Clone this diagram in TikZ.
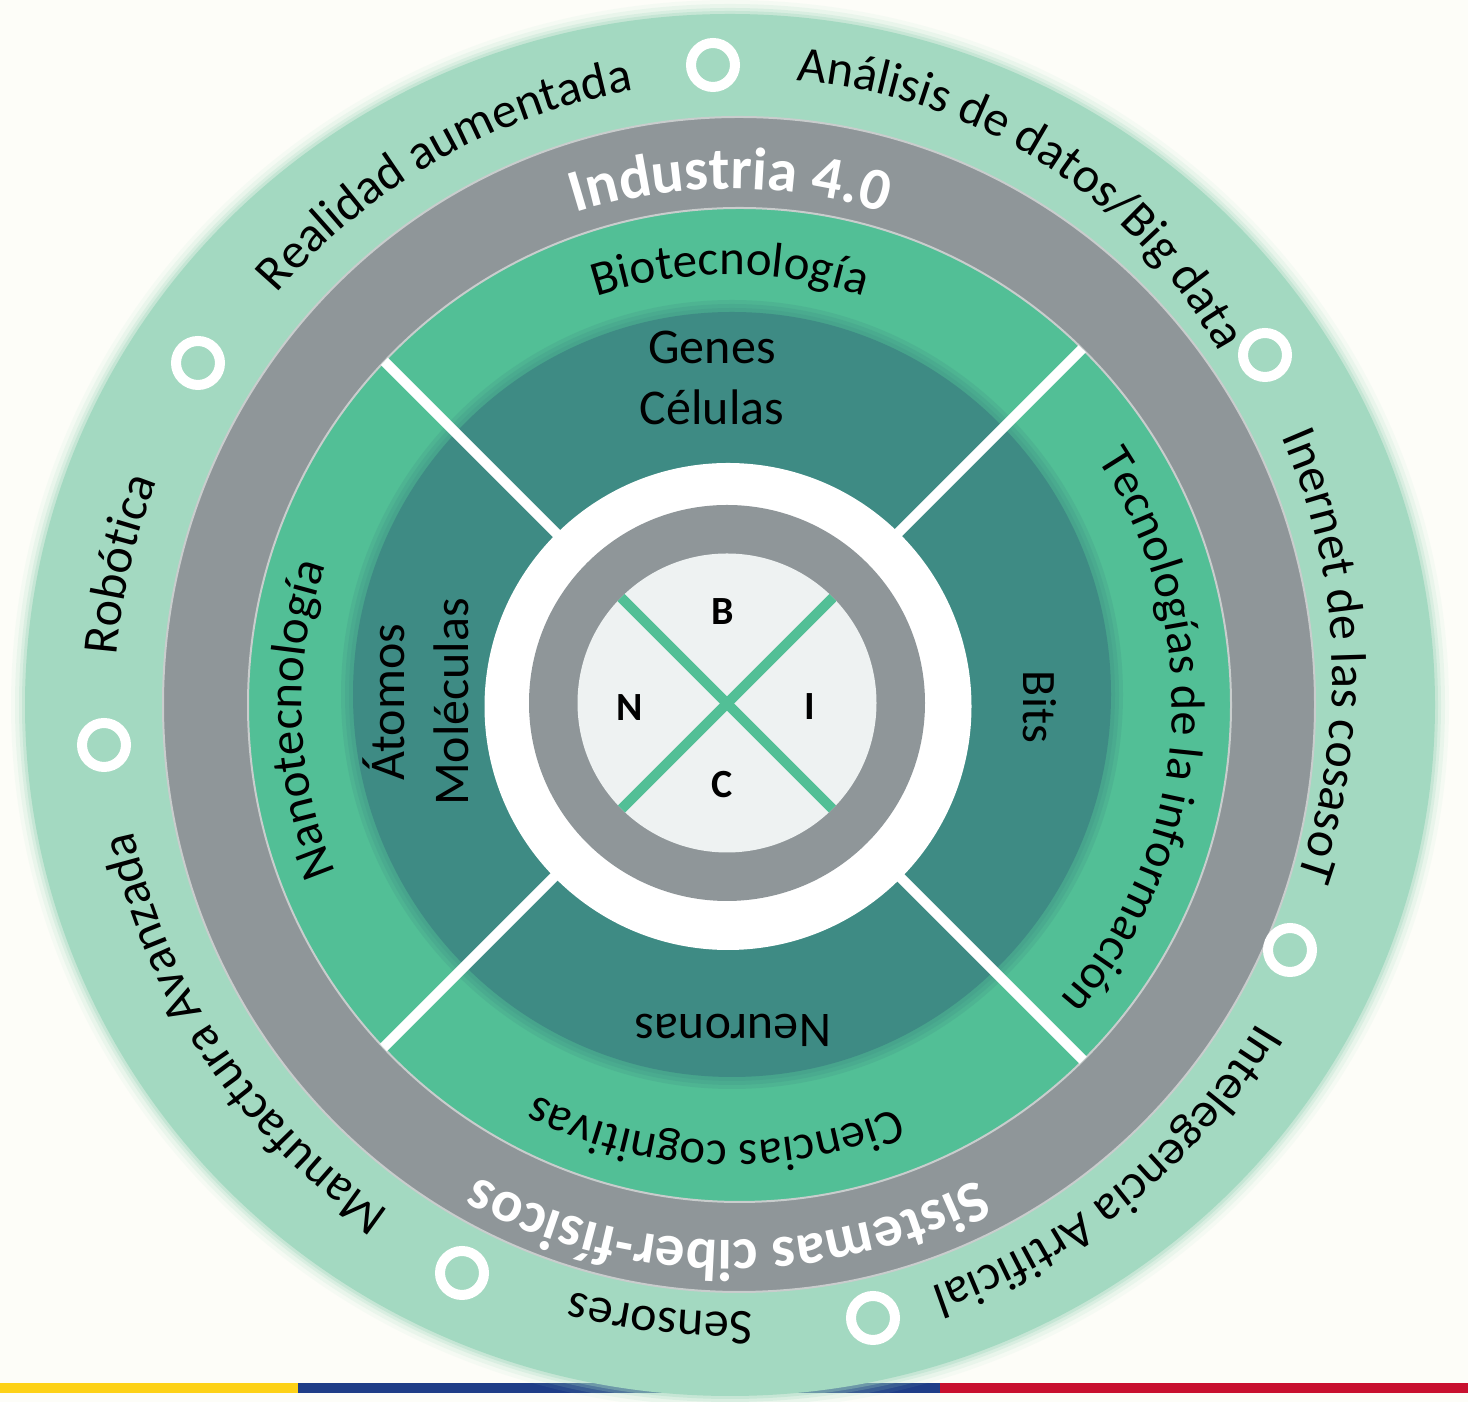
\documentclass[tikz,border=0pt]{standalone}
\usepackage{fontspec}
\setmainfont{Carlito}
\usetikzlibrary{decorations.text}
\definecolor{bgc}{HTML}{FDFDF8}
\definecolor{lgreen}{HTML}{A3D9C1}
\definecolor{ringgray}{HTML}{8F9699}
\definecolor{mgreen}{HTML}{52BF96}
\definecolor{dteal}{HTML}{3E8B84}
\definecolor{lightc}{HTML}{EEF2F2}
\definecolor{edgec}{HTML}{C9CDCD}
\definecolor{stripey}{HTML}{FDD116}
\definecolor{stripeb}{HTML}{1F3D87}
\definecolor{striper}{HTML}{C8102E}
\newcommand\ArcTxt[6][]{%
  \path[decorate,decoration={text along path,text align=center,#1,text={|#5|#6}}]
  #2 ++(#3+70:#4) arc[start angle=#3+70,end angle=#3-70,radius=#4];}
\newcommand\OuterFont{\fontsize{25}{29}\selectfont}
\tikzset{
  sepline/.style={white,line width=5pt},
  crossline/.style={mgreen,line width=5pt},
  marker/.style={draw=white,line width=5pt,circle,minimum size=22pt,inner sep=0pt},
  lettr/.style={font=\bfseries\fontsize{20}{24}\selectfont,text=black},
  plain/.style={font=\fontsize{25}{30.5}\selectfont,text=black,align=center,inner sep=0pt}
}
\begin{document}
\begin{tikzpicture}[x=0.5pt,y=0.5pt]
\useasboundingbox (0,0) rectangle (1468,1402);
\fill[bgc] (0,0) rectangle (1468,1402);
% bottom stripes
\fill[stripey] (0,9) rectangle (298,19);
\fill[stripeb] (298,9) rectangle (940,19);
\fill[striper] (940,9) rectangle (1468,19);
% outer light green disc with soft edge
\foreach \d/\o in {14/0.08,10/0.14,6/0.22,3/0.35}{
  \fill[lgreen,opacity=\o] (730,697) ellipse[x radius=705+\d,y radius=691+\d];}
\fill[lgreen] (730,697) ellipse[x radius=705,y radius=691];
% gray ring
\filldraw[fill=ringgray,draw=edgec,line width=1pt] (739,697.5) ellipse[x radius=576,y radius=587.5];
% medium green ring
\filldraw[fill=mgreen,draw=edgec,line width=1pt] (739.5,697) ellipse[x radius=491.5,y radius=497];
% shadow around teal
\foreach \d in {12,8,4}{
  \fill[dteal,opacity=0.2] (732,707.5) ellipse[x radius=379+\d,y radius=382.5+\d];}
\fill[dteal] (732,707.5) ellipse[x radius=379,y radius=382.5];
% white separators
\begin{scope}
  \clip (739.5,697) ellipse[x radius=491.5,y radius=497];
  \draw[sepline] (727,698) ++(45:720) -- ++(225:1440);
  \draw[sepline] (727,698) ++(135:720) -- ++(315:1440);
\end{scope}
% centre
\fill[white] (728,695.5) circle[radius=243.5];
\fill[ringgray] (727,699) circle[radius=198];
\fill[lightc] (727,699) circle[radius=149.5];
\begin{scope}
  \clip (727,699) circle[radius=149.5];
  \draw[crossline] (727,698.5) ++(45:200) -- ++(225:400);
  \draw[crossline] (727,698.5) ++(135:200) -- ++(315:400);
\end{scope}
\node[lettr] (lb) at (723,790) {B};
\node[lettr] (ln) at (630,694) {N};
\node[lettr] (li) at (810,695) {I};
\node[lettr] (lc) at (722,617) {C};
% straight labels
\node[plain] (genes) at (712,1024) {Genes\\Células};
\node[plain,font=\fontsize{25}{32}\selectfont,rotate=90] (atomos) at (416,700) {Átomos\\Moléculas};
\node[plain,font=\fontsize{24}{28}\selectfont,rotate=-90] (bits) at (1040,695) {Bits};
\node[plain,rotate=180] (neur) at (733,372) {Neuronas};
% marker rings
\node[marker] (m1) at (713,1337) {};
\node[marker] (m2) at (1265,1047) {};
\node[marker] (m3) at (1290,452) {};
\node[marker] (m4) at (873,84) {};
\node[marker] (m5) at (462,129) {};
\node[marker] (m6) at (104,657) {};
\node[marker] (m7) at (198,1039) {};
% outer ring texts
\ArcTxt{(741,709)}{119.7}{612}{\OuterFont}{Realidad aumentada}
\ArcTxt{(755,792)}{57.3}{531}{\OuterFont}{Análisis de datos/Big data}
\ArcTxt{(730,725)}{2.1}{602}{\OuterFont}{Inernet de las cosasoT}
\ArcTxt{(730,697)}{-51}{616}{\OuterFont}{Intelegencia Artificial}
\ArcTxt{(730,697)}{-96.5}{607}{\OuterFont}{Sensores}
\ArcTxt{(730,697)}{214}{610}{\OuterFont}{Manufactura Avanzada}
\ArcTxt{(730,697)}{167}{615}{\OuterFont}{Robótica}
% gray ring texts
\ArcTxt[text color=white]{(730,697)}{90}{516}{\bfseries\fontsize{30}{34}\selectfont}{Industria 4.0}
\ArcTxt[text color=white]{(730,697)}{-90.3}{535}{\bfseries\fontsize{29.5}{34}\selectfont}{Sistemas ciber-físicos}
% green ring texts
\ArcTxt{(730,697)}{90}{430}{\fontsize{24.5}{28}\selectfont}{Biotecnología}
\ArcTxt{(730,697)}{-4}{442}{\fontsize{24}{28}\selectfont}{Tecnologías de la información}
\ArcTxt{(730,697)}{-92}{436}{\fontsize{24.5}{28}\selectfont}{Ciencias cognitivas}
\ArcTxt{(730,697)}{182}{428}{\fontsize{24.5}{28}\selectfont}{Nanotecnología}
\end{tikzpicture}
\end{document}
